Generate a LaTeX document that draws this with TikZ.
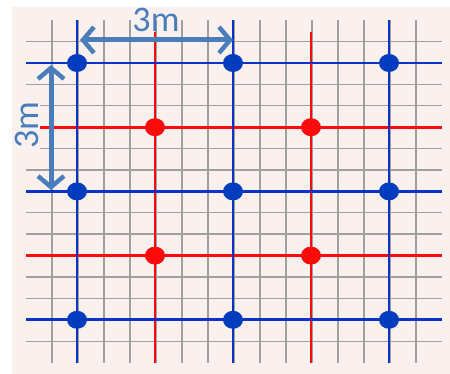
\documentclass[tikz,border=0pt]{standalone}
\usepackage{fontspec}
\setmainfont{Carlito}
\usetikzlibrary{arrows.meta}
\definecolor{bgpink}{RGB}{250,241,239}
\definecolor{gridgray}{RGB}{160,160,160}
\definecolor{gblue}{RGB}{10,50,200}
\definecolor{gred}{RGB}{255,10,10}
\definecolor{dblue}{RGB}{0,60,190}
\definecolor{arrblue}{RGB}{74,126,187}
\tikzset{
  gridline/.style={gridgray,line width=1.4pt},
  blueline/.style={gblue,line width=2.8pt},
  redline/.style={gred,line width=2.8pt},
  bdot/.style={fill=dblue,draw=none,ellipse,minimum width=20pt,minimum height=18pt,inner sep=0pt},
  rdot/.style={fill=gred,draw=none,ellipse,minimum width=20pt,minimum height=18pt,inner sep=0pt},
  dimarrow/.style={arrblue,line width=5pt,{Straight Barb[length=11pt,width=26pt,line width=4.5pt]}-{Straight Barb[length=11pt,width=26pt,line width=4.5pt]}},
  dimlabel/.style={text=arrblue,font=\fontsize{36}{36}\selectfont,inner sep=1pt}
}
\usetikzlibrary{shapes.geometric}
\begin{document}
\begin{tikzpicture}[x=1pt,y=-1pt]
\useasboundingbox (0,0) rectangle (450,374);
\fill[white] (0,0) rectangle (450,374);
\fill[bgpink] (12,7) rectangle (450,374);
% gray grid
\foreach \k in {0,...,14} {
  \draw[gridline] ({52+26*\k},20) -- ({52+26*\k},363);
}
\foreach \k in {-1,...,13} {
  \draw[gridline] (26,{63+21.4*\k}) -- (442,{63+21.4*\k});
}
% red lines
\foreach \x in {155,311} \draw[redline] (\x,32) -- (\x,363);
\foreach \y in {127.2,255.6} \draw[redline] (26,\y) -- (442,\y);
% blue lines
\foreach \x in {77,233,389} \draw[blueline] (\x,20) -- (\x,363);
\foreach \y in {63,191.4,319.8} \draw[blueline] (26,\y) -- (442,\y);
% dots
\foreach \x [count=\i] in {77,233,389}
  \foreach \y [count=\j] in {63,191.4,319.8}
    \node[bdot] (b\i\j) at (\x,\y) {};
\foreach \x [count=\i] in {155,311}
  \foreach \y [count=\j] in {127.2,255.6}
    \node[rdot] (r\i\j) at (\x,\y) {};
% dimension arrows
\coordinate (h1) at (80,40);
\coordinate (h2) at (233,40);
\coordinate (v1) at (51,65);
\coordinate (v2) at (51,190);
\draw[dimarrow] (h1) -- (h2);
\draw[dimarrow] (v1) -- (v2);
\node[dimlabel] (lh) at (156,20) {3m};
\node[dimlabel,fill=bgpink,rotate=90] (lv) at (27,125) {3m};
\end{tikzpicture}
\end{document}
